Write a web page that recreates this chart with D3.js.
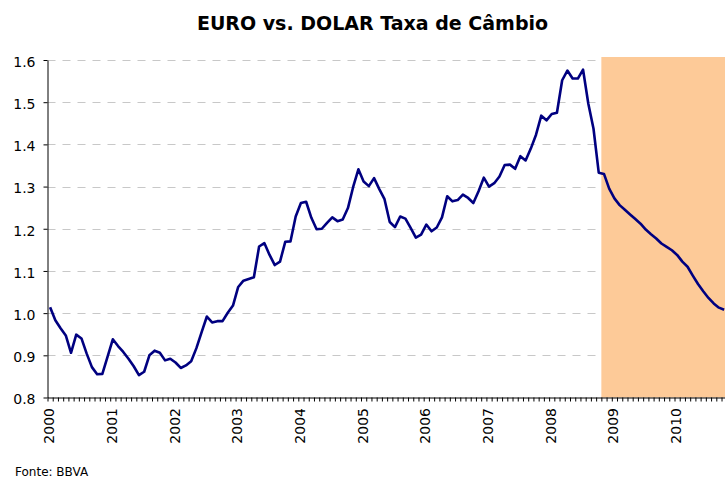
<!DOCTYPE html>
<html lang="pt">
<head>
  <meta charset="UTF-8" />
  <title>EURO vs. DOLAR Taxa de Câmbio</title>
  <script src="https://d3js.org/d3.v7.min.js"></script>
  <style>
    body {
      margin: 0;
      padding: 0;
      background: white;
    }
    svg {
      display: block;
      font-family: "DejaVu Sans", sans-serif;
    }
  </style>
</head>
<body>
  <svg id="chart" width="725" height="478"></svg>

  <script>
    // Anos mostrados no eixo (um rótulo em cada janeiro)
    const anos = [2000, 2001, 2002, 2003, 2004, 2005, 2006, 2007, 2008, 2009, 2010];

    // Meses: jan/2000 .. out/2010
    const meses = [];
    anos.forEach(a => {
      for (let m = 1; m <= 12; m++) {
        if (a === 2010 && m > 10) break;
        meses.push(a + "-" + String(m).padStart(2, "0"));
      }
    });

    // EUR/USD mensal observado, jan/2000 .. out/2008
    const historico = [
      1.014, 0.983, 0.964, 0.947, 0.906, 0.949, 0.940, 0.904, 0.872, 0.855, 0.856, 0.897,
      0.938, 0.922, 0.908, 0.892, 0.874, 0.853, 0.861, 0.900, 0.911, 0.906, 0.888, 0.892,
      0.883, 0.870, 0.876, 0.886, 0.917, 0.955, 0.992, 0.978, 0.981, 0.981, 1.001, 1.018,
      1.062, 1.077, 1.081, 1.085, 1.158, 1.166, 1.138, 1.114, 1.122, 1.169, 1.170, 1.229,
      1.261, 1.264, 1.226, 1.199, 1.200, 1.214, 1.227, 1.218, 1.222, 1.249, 1.299, 1.341,
      1.312, 1.301, 1.320, 1.294, 1.270, 1.216, 1.204, 1.229, 1.224, 1.202, 1.179, 1.186,
      1.210, 1.194, 1.203, 1.227, 1.277, 1.265, 1.268, 1.281, 1.273, 1.261, 1.289, 1.321,
      1.300, 1.308, 1.324, 1.351, 1.352, 1.342, 1.372, 1.362, 1.390, 1.423, 1.468, 1.457,
      1.472, 1.475, 1.552, 1.575, 1.556, 1.556, 1.577, 1.497, 1.437, 1.333
    ];

    // Previsão, nov/2008 .. out/2010 (área sombreada)
    const previsao = [
      1.330, 1.295, 1.272, 1.256, 1.245, 1.234, 1.223, 1.212, 1.198, 1.187, 1.177, 1.165,
      1.157, 1.149, 1.138, 1.122, 1.110, 1.089, 1.069, 1.052, 1.036, 1.023, 1.013, 1.008
    ];

    const inicioPrevisao = "2008-11";
    const yTicks = [0.8, 0.9, 1.0, 1.1, 1.2, 1.3, 1.4, 1.5, 1.6];

    const valores = historico.concat(previsao);
    const data = meses.map((m, i) => ({ mes: m, valor: valores[i] }));

    const svg = d3.select("#chart");
    const plotLeft = 47.5, step = 5.225;
    const plotTop = 60, plotBottom = 397.5;
    const plotRight = plotLeft + meses.length * step;

    const x = d3.scaleBand()
      .domain(meses)
      .range([plotLeft, plotRight])
      .padding(0);

    // limites das categorias (marcas do eixo X)
    const xb = d3.scaleLinear()
      .domain([0, meses.length])
      .range([plotLeft, plotRight]);

    const y = d3.scaleLinear()
      .domain([0.8, 1.6])
      .range([plotBottom, plotTop]);

    const cx = d => x(d) + x.bandwidth() / 2;

    // linhas de grade tracejadas
    svg.append("g")
      .selectAll("line")
      .data(yTicks.slice(1))
      .join("line")
      .attr("x1", plotLeft)
      .attr("x2", plotRight)
      .attr("y1", d => Math.round(y(d)) + 0.5)
      .attr("y2", d => Math.round(y(d)) + 0.5)
      .attr("stroke", "#c8c8c8")
      .attr("stroke-width", 1.2)
      .attr("stroke-dasharray", "8,7");

    // área de previsão
    svg.append("rect")
      .attr("x", x(inicioPrevisao))
      .attr("y", y(1.6) - 3)
      .attr("width", plotRight - x(inicioPrevisao))
      .attr("height", y(0.8) - y(1.6) + 3)
      .attr("fill", "#fdca98");

    // eixo X
    const gx = svg.append("g")
      .attr("transform", `translate(0,${plotBottom})`)
      .call(d3.axisBottom(xb)
        .tickValues(d3.range(meses.length + 1))
        .tickSize(4)
        .tickSizeOuter(0)
        .tickFormat(""));
    gx.select(".domain").attr("stroke", "#000");
    gx.selectAll(".tick line").attr("stroke", "#000");

    svg.append("g")
      .selectAll("text")
      .data(anos)
      .join("text")
      .attr("transform", d => `translate(${cx(d + "-01") + 4},408) rotate(-90)`)
      .attr("text-anchor", "end")
      .attr("font-size", 14)
      .attr("fill", "#000")
      .text(d => d);

    // eixo Y
    const gy = svg.append("g")
      .attr("transform", `translate(${plotLeft},0)`)
      .call(d3.axisLeft(y)
        .tickValues(yTicks)
        .tickSize(4)
        .tickSizeOuter(0)
        .tickPadding(8)
        .tickFormat(d3.format(".1f")));
    gy.select(".domain").attr("stroke", "#000");
    gy.selectAll(".tick line").attr("stroke", "#000");
    gy.selectAll(".tick text")
      .attr("font-size", 14)
      .attr("font-family", "DejaVu Sans, sans-serif")
      .attr("fill", "#000")
      .attr("dy", "0.45em");

    // série
    const line = d3.line()
      .x(d => cx(d.mes))
      .y(d => y(d.valor));

    svg.append("path")
      .datum(data)
      .attr("d", line)
      .attr("fill", "none")
      .attr("stroke", "#000080")
      .attr("stroke-width", 2.6)
      .attr("stroke-linejoin", "round");

    // título e fonte
    svg.append("text")
      .attr("x", 372.5)
      .attr("y", 30)
      .attr("text-anchor", "middle")
      .attr("font-size", 19)
      .attr("font-weight", "bold")
      .attr("fill", "#000")
      .text("EURO vs. DOLAR Taxa de Câmbio");

    svg.append("text")
      .attr("x", 15)
      .attr("y", 476)
      .attr("font-size", 12)
      .attr("fill", "#000")
      .text("Fonte: BBVA");
  </script>
</body>
</html>
